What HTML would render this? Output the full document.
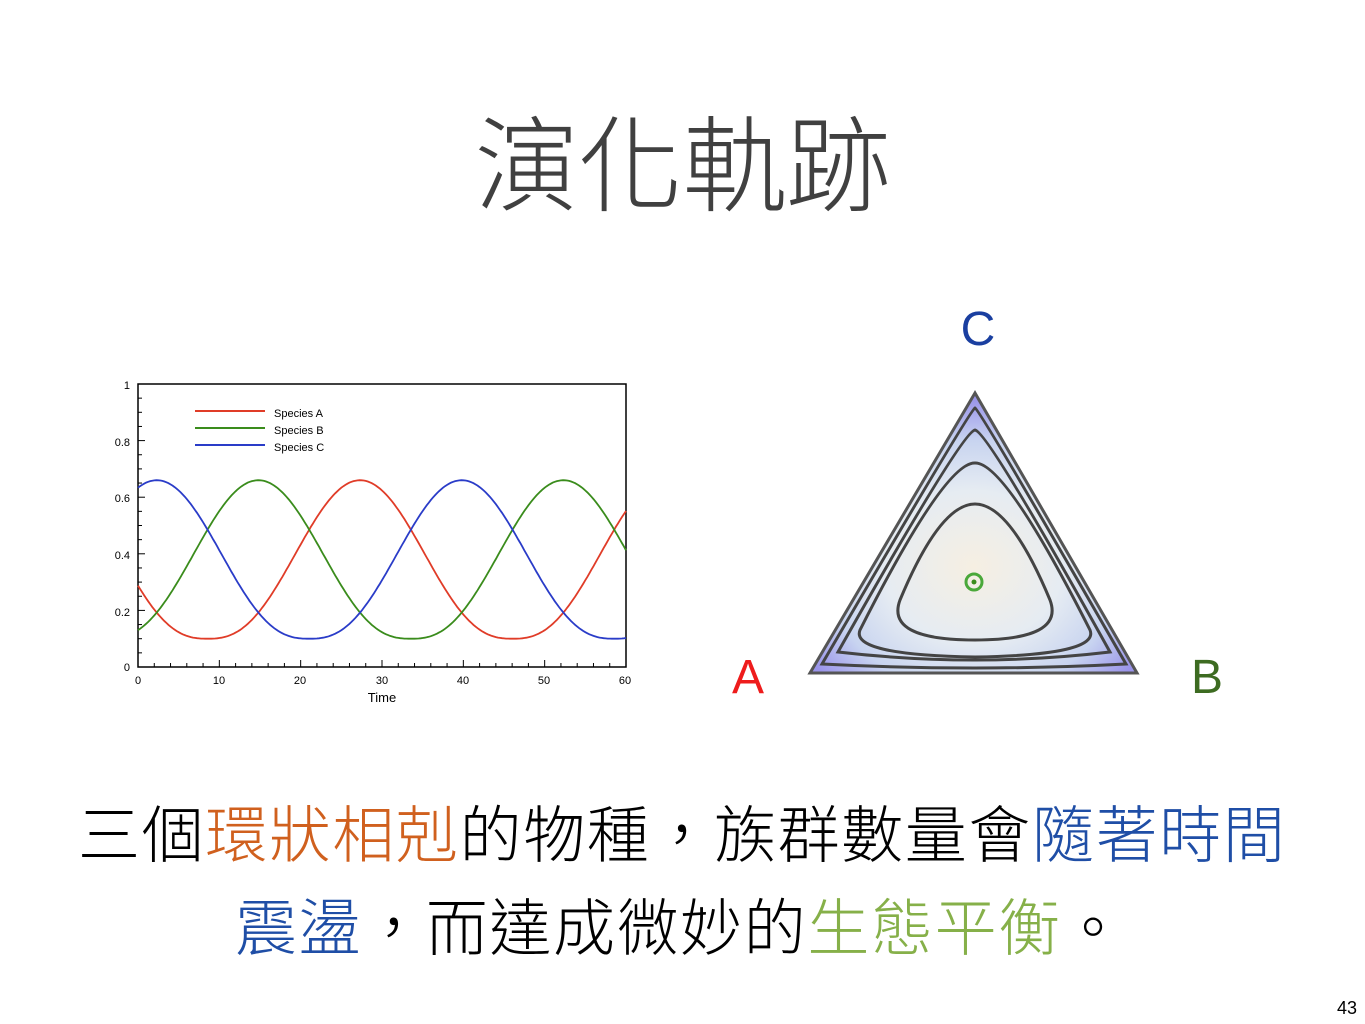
<!DOCTYPE html>
<html><head><meta charset="utf-8"><style>
body{margin:0;width:1365px;height:1024px;background:#fff;position:relative;overflow:hidden;font-family:"Liberation Sans","Noto Sans CJK TC",sans-serif}
.t{position:absolute;white-space:nowrap}
#title{left:0;width:1365px;text-align:center;top:106px;font-size:104px;color:#404040;font-family:"Noto Sans CJK TC",sans-serif;font-weight:300;line-height:1}
.l{font-family:"Liberation Sans","Noto Sans CJK TC",sans-serif;font-size:62px;line-height:1;color:#000;letter-spacing:1.6px;font-weight:300}
.o{color:#d0601e}.b{color:#1f4ea6}.g{color:#86b049}
</style></head><body>
<div class="t" id="title">演化軌跡</div>
<svg width="1365" height="1024" style="position:absolute;left:0;top:0" id="s">
<rect x="138" y="384" width="488" height="283" fill="none" stroke="#000" stroke-width="1.5"/>
<g id="ticks" stroke="#000" stroke-width="1"></g>
<g font-family="Liberation Sans" font-size="11" fill="#000">
<text x="130" y="389" text-anchor="end">1</text>
<text x="130" y="446" text-anchor="end">0.8</text>
<text x="130" y="502" text-anchor="end">0.6</text>
<text x="130" y="559" text-anchor="end">0.4</text>
<text x="130" y="616" text-anchor="end">0.2</text>
<text x="130" y="671" text-anchor="end">0</text>
<text x="138" y="684" text-anchor="middle">0</text>
<text x="219" y="684" text-anchor="middle">10</text>
<text x="300" y="684" text-anchor="middle">20</text>
<text x="382" y="684" text-anchor="middle">30</text>
<text x="463" y="684" text-anchor="middle">40</text>
<text x="544" y="684" text-anchor="middle">50</text>
<text x="625" y="684" text-anchor="middle">60</text>
<text x="382" y="702" text-anchor="middle" font-size="13">Time</text>
<text x="274" y="417">Species A</text>
<text x="274" y="434">Species B</text>
<text x="274" y="451">Species C</text>
</g>
<line x1="195" y1="411" x2="265" y2="411" stroke="#e03c28" stroke-width="2"/>
<line x1="195" y1="428" x2="265" y2="428" stroke="#3a8c1c" stroke-width="2"/>
<line x1="195" y1="445" x2="265" y2="445" stroke="#2a3cc8" stroke-width="2"/>
<path id="pa" fill="none" stroke="#e03c28" stroke-width="1.8"/>
<path id="pb" fill="none" stroke="#3a8c1c" stroke-width="1.8"/>
<path id="pc" fill="none" stroke="#2a3cc8" stroke-width="1.8"/>
<defs><radialGradient id="rg" cx="0.5" cy="0.62" r="0.6"><stop offset="0" stop-color="#f6efe2"/><stop offset="0.45" stop-color="#e6ecf2"/><stop offset="0.75" stop-color="#c8d4f0"/><stop offset="1" stop-color="#9a94ea"/></radialGradient></defs>
<polygon points="975,393 810,673 1137,673" fill="url(#rg)" stroke="#555" stroke-width="3"/>
<path d="M975,408 Q970,410 822,664 Q975,672 1126,664 Q980,410 975,408Z" fill="none" stroke="#444" stroke-width="3"/>
<path d="M975,430 Q962,432 838,652 Q975,668 1110,652 Q988,432 975,430Z" fill="none" stroke="#444" stroke-width="3"/>
<path d="M975,463 Q945,462 860,630 Q850,655 975,657 Q1100,655 1090,630 Q1005,462 975,463Z" fill="none" stroke="#444" stroke-width="3"/>
<path d="M975,504 Q940,504 900,600 Q885,640 975,640 Q1065,640 1050,600 Q1010,504 975,504Z" fill="none" stroke="#444" stroke-width="3"/>
<circle cx="974" cy="582" r="8" fill="none" stroke="#4aa83a" stroke-width="3"/>
<circle cx="974" cy="582" r="2.5" fill="#3a8c1c"/>
<text x="978" y="345" font-family="Liberation Sans" font-size="48" fill="#1a3fa0" text-anchor="middle">C</text>
<text x="748" y="693" font-family="Liberation Sans" font-size="48" fill="#ee1c1c" text-anchor="middle">A</text>
<text x="1207" y="693" font-family="Liberation Sans" font-size="48" fill="#3d6b21" text-anchor="middle">B</text>
<text x="1357" y="1014" font-family="Liberation Sans" font-size="18" fill="#000" text-anchor="end">43</text>
</svg>
<div class="t l" style="left:78px;top:806px">三個<span class="o">環狀相剋</span>的物種，族群數量會<span class="b">隨著時間</span></div>
<div class="t l" style="left:235px;top:899px"><span class="b">震盪</span>，而達成微妙的<span class="g">生態平衡</span>。</div>
<script>
function X(t){return 138+t*488/60}function Y(v){return 667-v*283}
function f(t,ph){var x=2*Math.PI*(t-ph)/37.5;return 0.1+0.56*Math.pow((1+Math.cos(x))/2,1.3)}
function p(ph){var d='';for(var t=0;t<=60;t+=0.25){d+=(t?'L':'M')+X(t).toFixed(1)+','+Y(f(t,ph)).toFixed(1)}return d}
document.getElementById('pa').setAttribute('d',p(27.3));
document.getElementById('pb').setAttribute('d',p(14.8));
document.getElementById('pc').setAttribute('d',p(2.3));
var g=document.getElementById('ticks'),h='';
for(var t=0;t<=60;t+=2){var x=X(t),L=t%10==0?7:4;h+='<line x1="'+x+'" y1="667" x2="'+x+'" y2="'+(667-L)+'"/>'}
for(var v=0;v<=1.001;v+=0.05){var y=Y(v),L=Math.round(v*100)%20==0?7:4;h+='<line x1="138" y1="'+y+'" x2="'+(138+L)+'" y2="'+y+'"/>'}
g.innerHTML=h;
</script>
</body></html>
